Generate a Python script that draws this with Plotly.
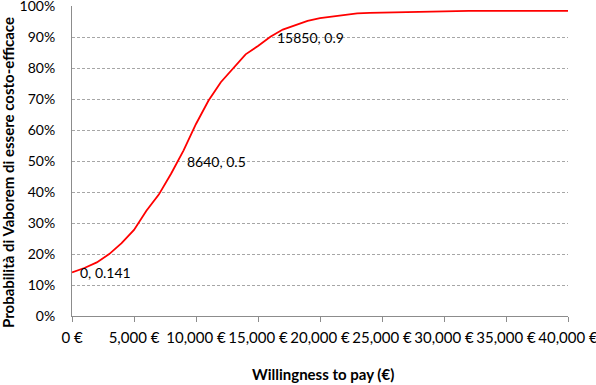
import plotly.graph_objects as go

wtp = [0, 1000, 2000, 3000, 4000, 5000, 6000, 7000, 8000, 9000, 10000,
       11000, 12000, 13000, 14000, 15000, 16000, 17000, 18000, 19000, 20000,
       21000, 22000, 23000, 24000, 25000, 26000, 27000, 28000, 29000, 30000,
       31000, 32000, 33000, 34000, 35000, 36000, 37000, 38000, 39000, 40000]
prob = [0.141, 0.155, 0.173, 0.200, 0.235, 0.278, 0.340, 0.392, 0.460, 0.535, 0.620,
        0.695, 0.755, 0.800, 0.845, 0.872, 0.902, 0.925, 0.940, 0.953, 0.962,
        0.967, 0.973, 0.977, 0.979, 0.980, 0.981, 0.982, 0.983, 0.984, 0.985,
        0.985, 0.985, 0.985, 0.985, 0.984, 0.985, 0.985, 0.985, 0.985, 0.985]

label_x = [0, 8640, 15850]
label_y = [0.141, 0.5, 0.9]
label_text = ["0, 0.141", "8640, 0.5", "15850, 0.9"]

x_tickvals = [0, 5000, 10000, 15000, 20000, 25000, 30000, 35000, 40000]
x_ticktext = ["0 €", "5,000 €", "10,000 €", "15,000 €", "20,000 €",
              "25,000 €", "30,000 €", "35,000 €", "40,000 €"]
y_tickvals = [0, 0.1, 0.2, 0.3, 0.4, 0.5, 0.6, 0.7, 0.8, 0.9, 1.0]
y_ticktext = ["0%", "10%", "20%", "30%", "40%", "50%", "60%", "70%", "80%", "90%", "100%"]

FONT = "Lato"
FS = 14

fig = go.Figure()
fig.add_trace(go.Scatter(x=wtp, y=prob, mode="lines",
                         line=dict(color="#FF0000", width=1.8),
                         showlegend=False, hoverinfo="skip"))

for lx, ly, lt in zip(label_x, label_y, label_text):
    fig.add_annotation(x=lx, y=ly, text=lt, showarrow=False,
                       xanchor="left", yanchor="middle", xshift=6,
                       font=dict(family=FONT, size=FS, color="#000"))

# axis titles (plot area spans y 6..316 px, x 72..568 px)
fig.add_annotation(xref="paper", yref="paper", x=0.5, xshift=3, y=0, yshift=-58,
                   text="<b>Willingness to pay (€)</b>",
                   showarrow=False, xanchor="center", yanchor="middle",
                   font=dict(family=FONT, size=15, color="#000"))
fig.add_annotation(xref="paper", yref="paper", x=0, xshift=-64, y=0.5, yshift=-12,
                   text="<b>Probabilità di Vaborem di essere costo-efficace</b>",
                   textangle=-90, showarrow=False, xanchor="center", yanchor="middle",
                   font=dict(family=FONT, size=15, color="#000"))

fig.update_layout(
    width=596, height=385,
    margin=dict(l=72, r=28, t=6, b=69, autoexpand=False),
    paper_bgcolor="white", plot_bgcolor="white",
    font=dict(family=FONT, size=FS, color="#000"),
)
fig.update_xaxes(
    range=[0, 40000], tickvals=x_tickvals, ticktext=x_ticktext,
    showgrid=False, zeroline=False, automargin=False,
    showline=True, linecolor="#8c8c8c", linewidth=1,
    ticks="outside", ticklen=5, tickcolor="#8c8c8c",
    ticklabelstandoff=3, ticklabeloverflow="allow",
    tickfont=dict(family=FONT, size=15, color="#000"),
)
fig.update_yaxes(
    range=[0, 1.001], tickvals=y_tickvals, ticktext=y_ticktext,
    showgrid=True, gridcolor="#a6a6a6", griddash="3px,2px", gridwidth=1,
    zeroline=False, automargin=False,
    showline=True, linecolor="#8c8c8c", linewidth=1,
    ticks="", ticklabelstandoff=13, ticklabeloverflow="allow",
    tickfont=dict(family=FONT, size=14, color="#000"),
)

fig.write_html("out.html", config={"displayModeBar": False},
               post_script="document.body.style.margin='0';document.body.style.overflow='hidden';")
